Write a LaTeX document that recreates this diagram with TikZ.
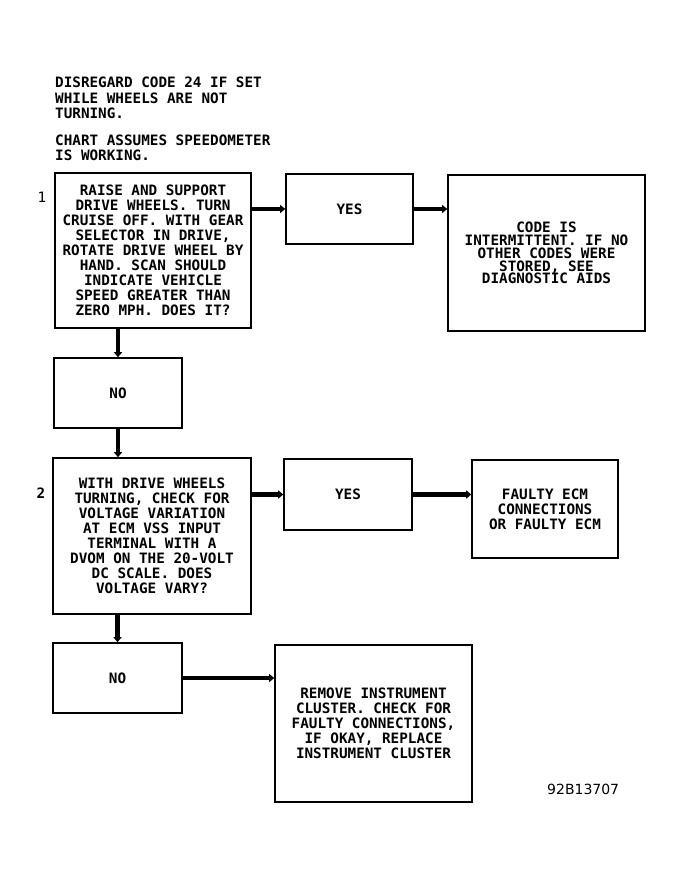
\documentclass[tikz,border=0pt]{standalone}
\usepackage{fontspec}
\newfontfamily\chartfont{DejaVu Sans Mono}
\newfontfamily\numfont{DejaVu Sans}
\usetikzlibrary{arrows.meta}
\begin{document}
\begin{tikzpicture}[x=1pt,y=-1pt,
    box/.style={draw,line width=1.6pt,inner sep=0pt,align=center,
        font=\chartfont\bfseries\fontsize{14.3}{15}\selectfont},
    flow/.style={line width=4.5pt,-{Triangle[length=5pt,width=8pt]}}]
    \useasboundingbox (0,0) rectangle (683,878);
    \node[anchor=north west,inner sep=0pt,align=left,
        font=\chartfont\bfseries\fontsize{14.3}{15.5}\selectfont] (note) at (55,77)
        {DISREGARD CODE 24 IF SET\\WHILE WHEELS ARE NOT\\TURNING.\\[11pt]
         CHART ASSUMES SPEEDOMETER\\IS WORKING.};
    \node[box,minimum width=196,minimum height=155] (check1) at (153,250.5)
        {RAISE AND SUPPORT\\DRIVE WHEELS. TURN\\CRUISE OFF. WITH GEAR\\SELECTOR IN DRIVE,\\
         ROTATE DRIVE WHEEL BY\\HAND. SCAN SHOULD\\INDICATE VEHICLE\\SPEED GREATER THAN\\ZERO MPH. DOES IT?};
    \node[box,minimum width=127,minimum height=70] (yes1) at (349.5,209) {YES};
    \node[box,minimum width=197,minimum height=156,
        font=\chartfont\bfseries\fontsize{14.3}{12.8}\selectfont] (intermit) at (546.5,253)
        {CODE IS\\INTERMITTENT. IF NO\\OTHER CODES WERE\\STORED, SEE\\DIAGNOSTIC AIDS};
    \node[box,minimum width=128,minimum height=70] (no1) at (118,393) {NO};
    \node[box,minimum width=198,minimum height=156] (check2) at (152,536)
        {WITH DRIVE WHEELS\\TURNING, CHECK FOR\\VOLTAGE VARIATION\\AT ECM VSS INPUT\\
         TERMINAL WITH A\\DVOM ON THE 20-VOLT\\DC SCALE. DOES\\VOLTAGE VARY?};
    \node[box,minimum width=128,minimum height=71] (yes2) at (348,494.5) {YES};
    \node[box,minimum width=146,minimum height=98] (ecm) at (545,509)
        {FAULTY ECM\\CONNECTIONS\\OR FAULTY ECM};
    \node[box,minimum width=129,minimum height=70] (no2) at (117.5,678) {NO};
    \node[box,minimum width=197,minimum height=157] (cluster) at (373.5,723.5)
        {REMOVE INSTRUMENT\\CLUSTER. CHECK FOR\\FAULTY CONNECTIONS,\\IF OKAY, REPLACE\\INSTRUMENT CLUSTER};
    \node[font=\chartfont\fontsize{14.3}{15}\selectfont] (num1) at (42,197) {1};
    \node[font=\chartfont\bfseries\fontsize{14.3}{15}\selectfont] (num2) at (41,493) {2};
    \node[anchor=west,inner sep=0pt,font=\numfont\fontsize{14}{16}\selectfont] (fig) at (547,789) {92B13707};
    \draw[flow] (check1.east |- yes1) -- (yes1.west);
    \draw[flow] (yes1.east) -- (intermit.west |- yes1);
    \draw[flow] (check1.south -| no1) -- (no1.north);
    \draw[flow] (no1.south) -- (no1.south |- check2.north);
    \draw[flow] (check2.east |- yes2) -- (yes2.west);
    \draw[flow] (yes2.east) -- (ecm.west |- yes2);
    \draw[flow] (check2.south -| no2) -- (no2.north);
    \draw[flow] (no2.east) -- (cluster.west |- no2);
\end{tikzpicture}
\end{document}
